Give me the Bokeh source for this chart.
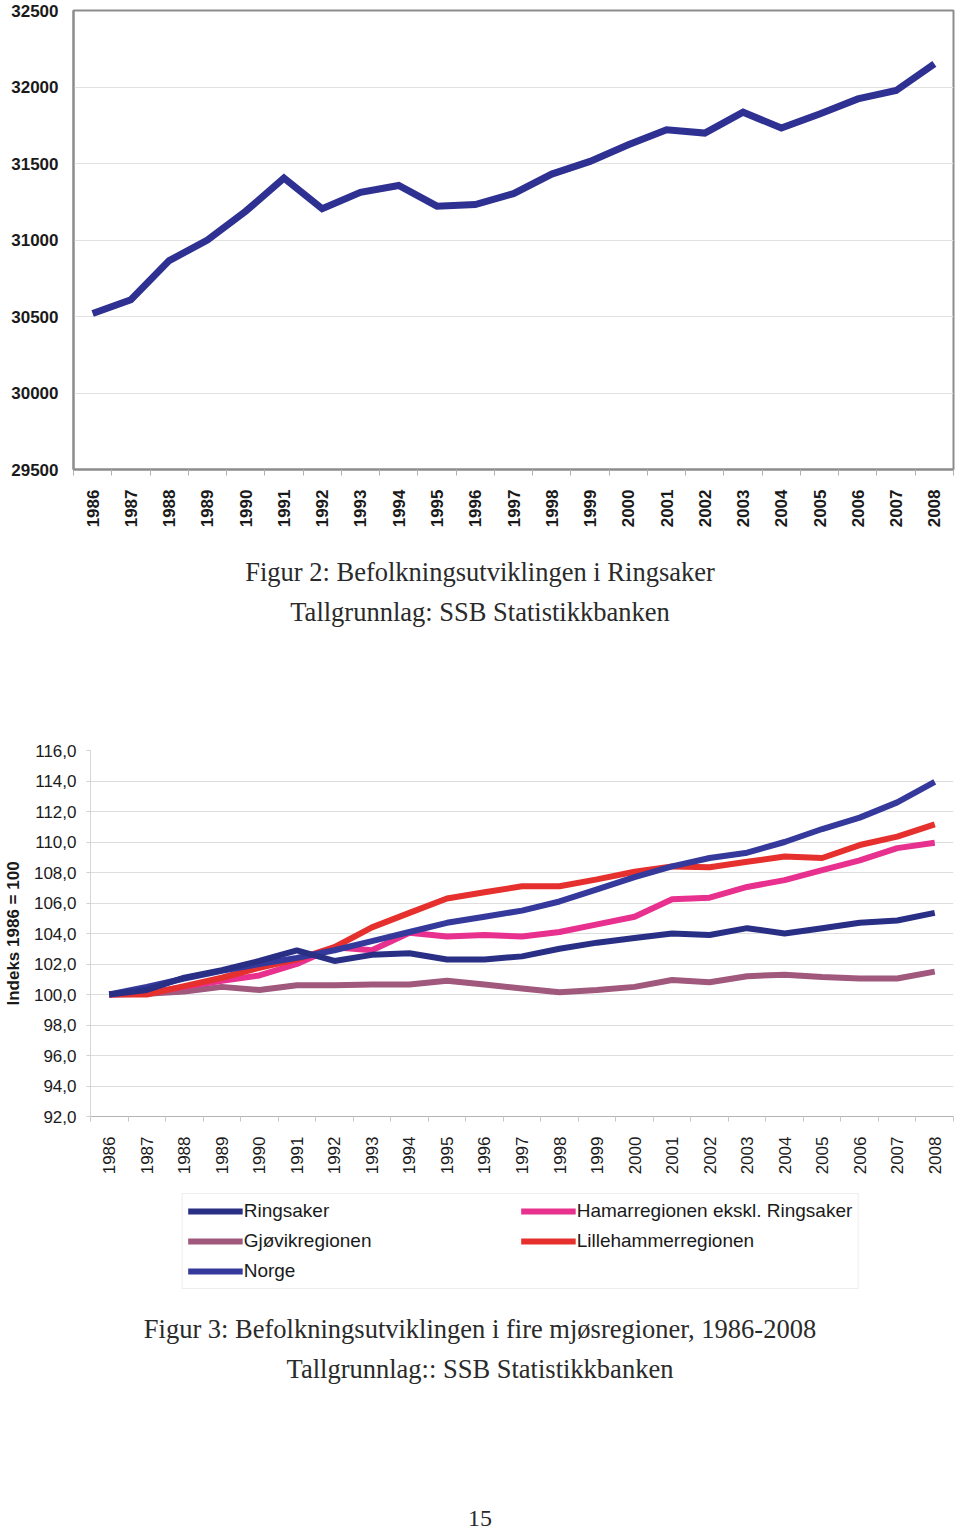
from bokeh.plotting import figure
from bokeh.models import FixedTicker, Div, Legend, LegendItem
from bokeh.embed import file_html
from bokeh.resources import INLINE

# ---------------- data ----------------
years = ["1986", "1987", "1988", "1989", "1990", "1991", "1992", "1993", "1994", "1995",
         "1996", "1997", "1998", "1999", "2000", "2001", "2002", "2003", "2004", "2005",
         "2006", "2007", "2008"]

ringsaker_pop = [30520, 30610, 30865, 31000, 31188, 31405, 31204, 31312, 31356, 31221,
                 31232, 31303, 31431, 31514, 31622, 31721, 31699, 31835, 31732, 31824,
                 31922, 31977, 32151]

pop_ticks = [29500, 30000, 30500, 31000, 31500, 32000, 32500]
pop_tick_labels = ["29500", "30000", "30500", "31000", "31500", "32000", "32500"]

idx_ringsaker = [100.0, 100.3, 101.1, 101.6, 102.2, 102.9, 102.2, 102.6, 102.7, 102.3,
                 102.3, 102.5, 103.0, 103.4, 103.7, 104.0, 103.9, 104.35, 104.0, 104.35,
                 104.7, 104.85, 105.35]
idx_hamar = [100.0, 100.1, 100.5, 100.9, 101.25, 102.0, 103.1, 102.9, 104.05, 103.8,
             103.9, 103.8, 104.1, 104.6, 105.1, 106.25, 106.35, 107.05, 107.5, 108.15,
             108.8, 109.6, 109.95]
idx_gjovik = [100.0, 100.05, 100.2, 100.5, 100.3, 100.6, 100.6, 100.65, 100.65, 100.9,
              100.65, 100.4, 100.15, 100.3, 100.5, 100.95, 100.8, 101.2, 101.3, 101.15,
              101.05, 101.05, 101.5]
idx_lillehammer = [100.0, 100.0, 100.55, 101.1, 101.75, 102.3, 103.1, 104.4, 105.35, 106.3,
                   106.7, 107.1, 107.1, 107.55, 108.05, 108.4, 108.35, 108.7, 109.05, 108.95,
                   109.8, 110.35, 111.15]
idx_norge = [100.0, 100.5, 101.05, 101.55, 102.0, 102.4, 102.9, 103.5, 104.1, 104.7,
             105.1, 105.5, 106.1, 106.9, 107.7, 108.4, 108.95, 109.3, 110.0, 110.85,
             111.6, 112.6, 113.95]

idx_ticks = [92, 94, 96, 98, 100, 102, 104, 106, 108, 110, 112, 114, 116]
idx_tick_labels = ["92,0", "94,0", "96,0", "98,0", "100,0", "102,0", "104,0", "106,0",
                   "108,0", "110,0", "112,0", "114,0", "116,0"]

series_names = ["Ringsaker", "Hamarregionen ekskl. Ringsaker", "Gjøvikregionen",
                "Lillehammerregionen", "Norge"]
series_colors = {"Ringsaker": "#2A2F86", "Hamarregionen ekskl. Ringsaker": "#E8308F",
                 "Gjøvikregionen": "#A0587D", "Lillehammerregionen": "#E5302D",
                 "Norge": "#34399B"}

caption1 = ["Figur 2: Befolkningsutviklingen i Ringsaker", "Tallgrunnlag: SSB Statistikkbanken"]
caption2 = ["Figur 3: Befolkningsutviklingen i fire mjøsregioner, 1986-2008",
            "Tallgrunnlag:: SSB Statistikkbanken"]
page_number = "15"

SANS = "Liberation Sans"

xpos = list(range(len(years)))
centers = xpos
bounds = [i - 0.5 for i in range(len(years) + 1)]

# ---------------- figure 1 ----------------
p1 = figure(width=960, height=530, output_backend="svg", toolbar_location=None,
            x_range=(-0.5, len(years) - 0.5), y_range=(29500, 32500),
            min_border_left=73, min_border_right=7, min_border_top=10, min_border_bottom=61)
p1.outline_line_color = "#8c8c8c"
p1.outline_line_width = 2
p1.line(xpos, ringsaker_pop, line_color="#2E3192", line_width=7, line_join="miter")

p1.xaxis.ticker = FixedTicker(ticks=centers, minor_ticks=bounds)
p1.xaxis.major_label_overrides = {i: y for i, y in zip(centers, years)}
p1.xaxis.major_label_orientation = 3.14159265 / 2
p1.xaxis.major_tick_out = 0
p1.xaxis.major_tick_in = 0
p1.xaxis.minor_tick_out = 6
p1.xaxis.minor_tick_in = 0
p1.xaxis.minor_tick_line_color = "#b0b0b0"
p1.xaxis.axis_line_color = "#8c8c8c"
p1.xaxis.axis_line_width = 2
p1.xaxis.major_label_standoff = 14
p1.xaxis.major_label_text_font = SANS
p1.xaxis.major_label_text_font_style = "bold"
p1.xaxis.major_label_text_font_size = "17px"
p1.xaxis.major_label_text_color = "#1a1a1a"

p1.yaxis.ticker = FixedTicker(ticks=pop_ticks, minor_ticks=[])
p1.yaxis.major_label_overrides = {t: l for t, l in zip(pop_ticks, pop_tick_labels)}
p1.yaxis.major_tick_out = 0
p1.yaxis.major_tick_in = 0
p1.yaxis.axis_line_color = "#8c8c8c"
p1.yaxis.axis_line_width = 2
p1.yaxis.major_label_standoff = 15
p1.yaxis.major_label_text_font = SANS
p1.yaxis.major_label_text_font_style = "bold"
p1.yaxis.major_label_text_font_size = "17px"
p1.yaxis.major_label_text_color = "#1a1a1a"
p1.xgrid.grid_line_color = None
p1.ygrid.grid_line_color = "#e2e2e2"
p1.ygrid.ticker = FixedTicker(ticks=pop_ticks)

CAP_STYLE = ("width:960px;line-height:40px;text-align:center;"
             "font-family:'Liberation Serif';font-size:26.5px;color:#2a2a2a;")

div1 = Div(width=960, height=210, margin=0,
           text=("<div style=\"padding-top:22px;" + CAP_STYLE + "\">"
                 + caption1[0] + "<br>" + caption1[1] + "</div>"))

# ---------------- figure 2 ----------------
p2 = figure(width=960, height=437, output_backend="svg", toolbar_location=None,
            x_range=(-0.5, len(years) - 0.5), y_range=(92, 116),
            min_border_left=90, min_border_right=7, min_border_top=10, min_border_bottom=60)
p2.outline_line_color = None

data2 = {"Ringsaker": idx_ringsaker, "Hamarregionen ekskl. Ringsaker": idx_hamar,
         "Gjøvikregionen": idx_gjovik, "Lillehammerregionen": idx_lillehammer,
         "Norge": idx_norge}
for name in ["Gjøvikregionen", "Hamarregionen ekskl. Ringsaker", "Lillehammerregionen",
             "Norge", "Ringsaker"]:
    p2.line(xpos, data2[name], line_color=series_colors[name], line_width=6)

p2.xaxis.ticker = FixedTicker(ticks=centers, minor_ticks=bounds)
p2.xaxis.major_label_overrides = {i: y for i, y in zip(centers, years)}
p2.xaxis.major_label_orientation = 3.14159265 / 2
p2.xaxis.major_tick_out = 0
p2.xaxis.major_tick_in = 0
p2.xaxis.minor_tick_out = 5
p2.xaxis.minor_tick_in = 0
p2.xaxis.minor_tick_line_color = "#c8c8c8"
p2.xaxis.axis_line_color = "#b4b4b4"
p2.xaxis.major_label_standoff = 15
p2.xaxis.major_label_text_font = SANS
p2.xaxis.major_label_text_font_size = "17px"
p2.xaxis.major_label_text_color = "#1a1a1a"

p2.yaxis.ticker = FixedTicker(ticks=idx_ticks, minor_ticks=[])
p2.yaxis.major_label_overrides = {t: l for t, l in zip(idx_ticks, idx_tick_labels)}
p2.yaxis.major_tick_out = 4
p2.yaxis.major_tick_in = 0
p2.yaxis.major_tick_line_color = "#d0d0d0"
p2.yaxis.axis_line_color = "#d6d6d6"
p2.yaxis.major_label_standoff = 10
p2.yaxis.major_label_text_font = SANS
p2.yaxis.major_label_text_font_size = "17px"
p2.yaxis.major_label_text_color = "#1a1a1a"
p2.yaxis.axis_label = "Indeks 1986 = 100"
p2.yaxis.axis_label_text_font = SANS
p2.yaxis.axis_label_text_font_style = "bold"
p2.yaxis.axis_label_text_font_size = "17px"
p2.yaxis.axis_label_text_color = "#1a1a1a"
p2.yaxis.axis_label_standoff = 8
p2.xgrid.grid_line_color = None
p2.ygrid.grid_line_color = "#dedede"
p2.ygrid.ticker = FixedTicker(ticks=idx_ticks)

# ---------------- legend (own small figure; series drawn outside its view) ----------------
p3 = figure(width=960, height=118, output_backend="svg", toolbar_location=None,
            x_range=(0, 1), y_range=(0, 1), x_axis_type=None, y_axis_type=None,
            min_border_left=80, min_border_right=0, min_border_top=0, min_border_bottom=0)
p3.outline_line_color = None
leg_renderers = {}
for name in series_names:
    leg_renderers[name] = p3.line(xpos, data2[name], line_color=series_colors[name], line_width=6)

legend = Legend(items=[LegendItem(label=n, renderers=[leg_renderers[n]]) for n in series_names],
                orientation="horizontal", ncols=2, location="top_center",
                label_text_font=SANS, label_text_font_size="19px", label_text_color="#1a1a1a",
                label_width=271, label_height=24, glyph_width=55, glyph_height=14,
                label_standoff=1, spacing=6, padding=5, margin=16,
                border_line_color="#dcdcdc", border_line_width=1,
                background_fill_color="white")
p3.add_layout(legend)

div2 = Div(width=960, height=230, margin=0,
           text=("<div style=\"padding-top:14px;" + CAP_STYLE + "\">"
                 + caption2[0] + "<br>" + caption2[1] + "</div>"
                 "<div style=\"padding-top:114px;width:960px;line-height:30px;text-align:center;"
                 "font-family:'Liberation Serif';font-size:24px;color:#2a2a2a;\">"
                 + page_number + "</div>"))

open("out.html", "w").write(file_html([p1, div1, p2, p3, div2], INLINE))
